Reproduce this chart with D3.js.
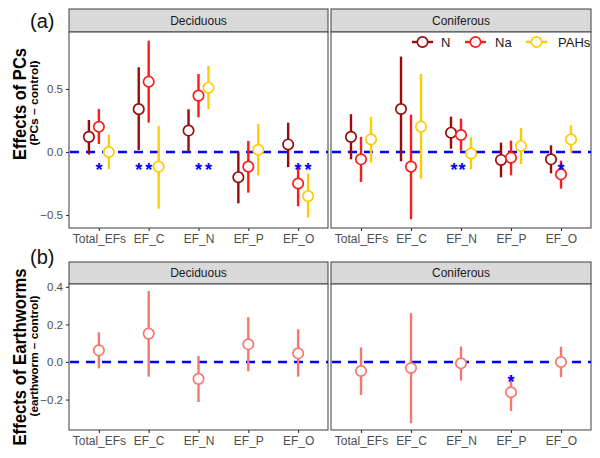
<!DOCTYPE html>
<html>
<head>
<meta charset="utf-8">
<script src="https://cdn.jsdelivr.net/npm/d3@7"></script>
<style>
  html, body { margin: 0; padding: 0; background: #fff; }
  svg { display: block; font-family: "Liberation Sans", Arial, Helvetica, sans-serif; }
</style>
</head>
<body>
<svg id="chart" width="600" height="458"></svg>
<script>
// ---------------- DATA ----------------
const categories = ["Total_EFs", "EF_C", "EF_N", "EF_P", "EF_O"];
const facets = ["Deciduous", "Coniferous"];
const series = ["N", "Na", "PAHs"];
const seriesColors = ["#9B0A0A", "#FF1A1A", "#FFCC00"];

// (a) Effects of PCs — Deciduous
const decidN_mean   = [0.12, 0.34, 0.17, -0.20, 0.06];
const decidN_lo     = [-0.02, 0.016, 0.0, -0.407, -0.12];
const decidN_hi     = [0.254, 0.672, 0.339, 0.0, 0.232];
const decidNa_mean  = [0.20, 0.558, 0.447, -0.116, -0.25];
const decidNa_lo    = [0.063, 0.233, 0.275, -0.323, -0.43];
const decidNa_hi    = [0.34, 0.883, 0.619, 0.087, -0.125];
const decidPAH_mean = [0.0, -0.116, 0.51, 0.018, -0.35];
const decidPAH_lo   = [-0.137, -0.45, 0.339, -0.185, -0.52];
const decidPAH_hi   = [0.137, 0.206, 0.683, 0.222, -0.17];

// (a) Effects of PCs — Coniferous
const conifN_mean   = [0.12, 0.341, 0.153, -0.063, -0.058];
const conifN_lo     = [-0.058, -0.074, 0.026, -0.201, -0.169];
const conifN_hi     = [0.30, 0.757, 0.28, 0.074, 0.053];
const conifNa_mean  = [-0.058, -0.116, 0.135, -0.045, -0.177];
const conifNa_lo    = [-0.238, -0.534, 0.01, -0.185, -0.291];
const conifNa_hi    = [0.12, 0.296, 0.264, 0.09, -0.069];
const conifPAH_mean = [0.10, 0.201, -0.011, 0.048, 0.10];
const conifPAH_lo   = [-0.085, -0.212, -0.137, -0.095, -0.011];
const conifPAH_hi   = [0.28, 0.619, 0.116, 0.19, 0.212];

// (b) Effects of Earthworms
const ewDecid_mean = [0.062, 0.151, -0.09, 0.094, 0.046];
const ewDecid_lo   = [-0.034, -0.078, -0.213, -0.05, -0.078];
const ewDecid_hi   = [0.158, 0.378, 0.032, 0.238, 0.174];
const ewConif_mean = [-0.048, -0.032, -0.007, -0.161, 0.0];
const ewConif_lo   = [-0.176, -0.326, -0.099, -0.261, -0.081];
const ewConif_hi   = [0.078, 0.26, 0.082, -0.069, 0.081];

// significance marks: facet, category, dodge position (series slot), value level
const pcStarFacet = ["Deciduous","Deciduous","Deciduous","Deciduous","Deciduous","Deciduous","Deciduous","Coniferous","Coniferous","Coniferous"];
const pcStarCat   = ["Total_EFs","EF_C","EF_C","EF_N","EF_N","EF_O","EF_O","EF_N","EF_N","EF_O"];
const pcStarSlot  = [0, -1, 0, 0, 1, 0, 1, -0.7, 0.1, 0];
const pcStarValue = -0.11;
const ewStarFacet = ["Coniferous"];
const ewStarCat   = ["EF_P"];
const ewStarValue = -0.083;

const pcTicks = [-0.5, 0.0, 0.5];
const ewTicks = [-0.2, 0.0, 0.2, 0.4];
const pcDomain = [-0.603, 0.952];
const ewDomain = [-0.362, 0.415];
const ewColor = "#F8766D";

// ---------------- BUILD ----------------
function rows(mean, lo, hi, s) {
  return categories.map((c, i) => ({ cat: c, series: s, mean: mean[i], lo: lo[i], hi: hi[i] }));
}
const pcData = {
  Deciduous: [].concat(rows(decidN_mean, decidN_lo, decidN_hi, "N"),
                       rows(decidNa_mean, decidNa_lo, decidNa_hi, "Na"),
                       rows(decidPAH_mean, decidPAH_lo, decidPAH_hi, "PAHs")),
  Coniferous: [].concat(rows(conifN_mean, conifN_lo, conifN_hi, "N"),
                        rows(conifNa_mean, conifNa_lo, conifNa_hi, "Na"),
                        rows(conifPAH_mean, conifPAH_lo, conifPAH_hi, "PAHs"))
};
const ewData = {
  Deciduous: rows(ewDecid_mean, ewDecid_lo, ewDecid_hi, "EW"),
  Coniferous: rows(ewConif_mean, ewConif_lo, ewConif_hi, "EW")
};

const svg = d3.select("#chart");
const color = d3.scaleOrdinal().domain(series).range(seriesColors);
const dodge = d3.scaleOrdinal().domain(series).range([-1, 0, 1]);
const dodgeUnit = 0.2;

const panelX = { Deciduous: [69, 328], Coniferous: [331, 591] };
const rows2 = [
  { key: "a", top: 32, bottom: 228, strip: 9, domain: pcDomain, ticks: pcTicks, data: pcData },
  { key: "b", top: 284, bottom: 430, strip: 262, domain: ewDomain, ticks: ewTicks, data: ewData }
];

const font = "Liberation Sans, Arial, sans-serif";
const borderCol = "#4D4D4D";
const R_PT = 5.2;

rows2.forEach(R => {
  const y = d3.scaleLinear().domain(R.domain).range([R.bottom, R.top]);
  facets.forEach((f, fi) => {
    const [x0, x1] = panelX[f];
    const x = d3.scalePoint().domain(categories).range([x0, x1]).padding(0.6);
    const step = x.step();
    const g = svg.append("g");

    // strip
    g.append("rect").attr("x", x0).attr("y", R.strip).attr("width", x1 - x0).attr("height", R.top - R.strip)
      .attr("fill", "#D9D9D9").attr("stroke", borderCol).attr("stroke-width", 1.1);
    g.append("text").attr("x", (x0 + x1) / 2).attr("y", (R.strip + R.top) / 2 + 4.3)
      .attr("text-anchor", "middle").attr("font-size", 12).attr("fill", "#1A1A1A").text(f);

    // panel
    g.append("rect").attr("x", x0).attr("y", R.top).attr("width", x1 - x0).attr("height", R.bottom - R.top)
      .attr("fill", "#fff").attr("stroke", borderCol).attr("stroke-width", 1.1);

    // x axis
    const xa = g.append("g").attr("transform", `translate(0,${R.bottom})`)
      .call(d3.axisBottom(x).tickSize(3).tickPadding(3));
    xa.select(".domain").remove();
    xa.selectAll("line").attr("stroke", "#333").attr("stroke-width", 1.1);
    xa.selectAll("text").attr("font-size", 12).attr("fill", "#4D4D4D").attr("font-family", font);

    // y axis only on left facet
    if (fi === 0) {
      const ya = g.append("g").attr("transform", `translate(${x0},0)`)
        .call(d3.axisLeft(y).tickValues(R.ticks).tickFormat(d3.format(".1f")).tickSize(3).tickPadding(3));
      ya.select(".domain").remove();
      ya.selectAll("line").attr("stroke", "#333").attr("stroke-width", 1.1);
      ya.selectAll("text").attr("font-size", 11.5).attr("fill", "#4D4D4D").attr("font-family", font)
        .text(d => d < 0 ? "\u2212" + d3.format(".1f")(-d) : d3.format(".1f")(d));
    }

    // dashed zero line
    g.append("line").attr("x1", x0).attr("x2", x1).attr("y1", y(0)).attr("y2", y(0))
      .attr("stroke", "#0000FF").attr("stroke-width", 2.6).attr("stroke-dasharray", "9,7")
      .attr("stroke-dashoffset", -1);

    const data = R.data[f];
    const px = d => x(d.cat) + (d.series === "EW" ? 0 : dodge(d.series) * dodgeUnit * step);
    const col = d => d.series === "EW" ? ewColor : color(d.series);

    g.selectAll(".eb").data(data).join("line")
      .attr("x1", px).attr("x2", px).attr("y1", d => y(d.lo)).attr("y2", d => y(d.hi))
      .attr("stroke", col).attr("stroke-width", 2.4);
    g.selectAll(".pt").data(data).join("circle")
      .attr("cx", px).attr("cy", d => y(d.mean)).attr("r", R_PT)
      .attr("fill", "#fff").attr("stroke", col).attr("stroke-width", 1.7);

    // stars
    if (R.key === "a") {
      pcStarFacet.forEach((sf, i) => {
        if (sf !== f) return;
        g.append("text").attr("x", x(pcStarCat[i]) + pcStarSlot[i] * dodgeUnit * step)
          .attr("y", y(pcStarValue) + 10).attr("text-anchor", "middle")
          .attr("font-size", 18).attr("font-weight", "bold").attr("fill", "#0000FF").text("*");
      });
    } else {
      ewStarFacet.forEach((sf, i) => {
        if (sf !== f) return;
        g.append("text").attr("x", x(ewStarCat[i]))
          .attr("y", y(ewStarValue) + 10).attr("text-anchor", "middle")
          .attr("font-size", 18).attr("font-weight", "bold").attr("fill", "#0000FF").text("*");
      });
    }
  });
});

// legend
const legendX = [412, 465, 526];
const legendTextX = [443, 497, 560];
series.forEach((s, i) => {
  const lg = svg.append("g");
  lg.append("line").attr("x1", legendX[i]).attr("x2", legendX[i] + 21).attr("y1", 42).attr("y2", 42)
    .attr("stroke", color(s)).attr("stroke-width", 2.4);
  lg.append("circle").attr("cx", legendX[i] + 10.5).attr("cy", 42).attr("r", R_PT)
    .attr("fill", "#fff").attr("stroke", color(s)).attr("stroke-width", 1.7);
  lg.append("text").attr("x", legendTextX[i] - 2).attr("y", 46.5).attr("font-size", 13)
    .attr("fill", "#1A1A1A").text(s);
});

// panel letters
svg.append("text").attr("x", 30).attr("y", 28).attr("font-size", 20).attr("fill", "#111").text("(a)");
svg.append("text").attr("x", 30).attr("y", 264).attr("font-size", 20).attr("fill", "#111").text("(b)");

// y titles
function ytitle(cy, big, bigLen, small, smallLen) {
  svg.append("text").attr("transform", `translate(26,${cy}) rotate(-90)`)
    .attr("text-anchor", "middle").attr("font-size", 18).attr("font-weight", "bold").attr("fill", "#000")
    .attr("textLength", bigLen).attr("lengthAdjust", "spacingAndGlyphs").text(big);
  svg.append("text").attr("transform", `translate(38,${cy - 1}) rotate(-90)`)
    .attr("text-anchor", "middle").attr("font-size", 11.5).attr("font-weight", "bold").attr("fill", "#000")
    .attr("textLength", smallLen).attr("lengthAdjust", "spacingAndGlyphs").text(small);
}
ytitle(104, "Effects of PCs", 112, "(PCs \u2013 control)", 85);
ytitle(357, "Effects of Earthworms", 177, "(earthworm \u2013 control)", 121);
</script>
</body>
</html>
